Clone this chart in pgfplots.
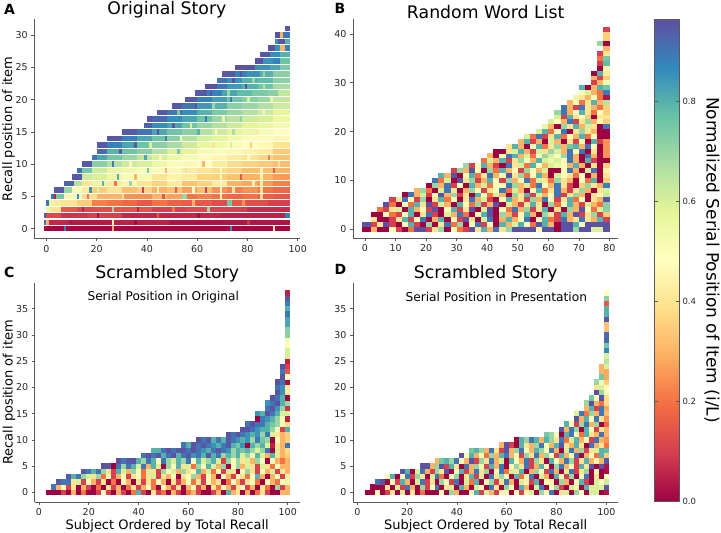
\documentclass[border=0pt]{standalone}
\usepackage{pgfplots}
\pgfplotsset{compat=1.18}
\usepackage{fontspec}
\setmainfont{DejaVu Sans}
\definecolor{spine}{gray}{0.35}
\pgfplotsset{
  colormap={spectral}{
    rgb255=(158,1,66) rgb255=(213,62,79) rgb255=(244,109,67) rgb255=(253,174,97)
    rgb255=(254,224,139) rgb255=(255,255,191) rgb255=(230,245,152) rgb255=(171,221,164)
    rgb255=(102,194,165) rgb255=(50,136,189) rgb255=(94,79,162)},
  panel/.style={
    scale only axis, anchor=south west,
    axis lines=left, axis line style={spine, line width=0.9pt, -},
    tick style={spine, line width=0.7pt}, tick align=outside, major tick length=3pt,
    xtick pos=bottom, ytick pos=left,
    tick label style={font=\fontsize{9.5}{11}\selectfont, text=black!85},
    /pgf/number format/assume math mode=true,
    point meta min=0, point meta max=0.964,
    title style={font=\fontsize{17.3}{20}\selectfont, yshift=-9pt},
    xlabel style={font=\fontsize{13}{16}\selectfont, yshift=3pt},
    ylabel style={font=\fontsize{13}{16}\selectfont},
    ylabel shift=-6pt,
  },
  cells/.style={
    point meta=explicit,
    quiver={u=#1, v=0, colored=mapped color, every arrow/.append style={line width=\cellh, -}},
  },
}
\newlength{\cellh}
\begin{document}
\begin{tikzpicture}[x=1pt,y=1pt]
\path[use as bounding box] (0,0) rectangle (721,533);

\begin{axis}[panel, at={(34.3pt,294.5pt)}, width=265.2pt, height=219.5pt,
  xmin=-4.8, xmax=100.7, ymin=-1.52, ymax=32.5,
  xtick={0,20,...,100}, ytick={0,5,...,30},
  title={Original Story}, ylabel={Recall position of item}]
\setlength{\cellh}{5.4pt}
\addplot[cells=\thisrow{w}] table[x=x,y=y,meta=c]{
x y w c
-1 0 8 .01
7 0 1 .88
8 0 18 .01
26 0 1 .3
27 0 46 .01
73 0 1 .85
74 0 16 .01
90 0 1 .47
91 0 6 .01
-1 1 1 .92
0 1 1 .3
1 1 8 .06
9 1 1 .03
10 1 16 .04
26 1 1 .45
27 1 22 .05
49 1 24 .03
73 1 24 .03
-1 2 1 .95
0 2 6 .12
6 2 10 .08
16 2 14 .1
30 2 20 .06
50 2 20 .06
70 2 25 .05
95 2 2 .88
0 3 2 .55
2 3 4 .4
6 3 6 .15
12 3 6 .12
18 3 8 .13
26 3 1 .7
27 3 15 .14
42 3 14 .1
56 3 8 .12
64 3 1 .7
65 3 15 .1
80 3 17 .07
0 4 1 .9
1 4 2 .55
3 4 3 .42
6 4 6 .4
12 4 6 .35
18 4 6 .22
24 4 6 .2
30 4 6 .18
36 4 6 .15
42 4 6 .2
48 4 6 .17
54 4 6 .16
60 4 6 .15
66 4 6 .13
72 4 2 .75
74 4 6 .15
80 4 8 .13
88 4 9 .1
2 5 1 .9
3 5 1 .05
4 5 3 .75
7 5 3 .45
10 5 4 .5
14 5 6 .38
20 5 4 .3
24 5 6 .3
30 5 6 .25
36 5 6 .25
42 5 6 .3
48 5 6 .27
54 5 2 .7
56 5 4 .2
60 5 6 .22
66 5 6 .2
72 5 6 .18
78 5 6 .2
84 5 6 .17
90 5 7 .15
3 6 4 .95
7 6 3 .7
10 6 4 .5
14 6 3 .42
17 6 1 .85
18 6 6 .35
24 6 6 .4
30 6 6 .32
36 6 6 .36
42 6 6 .3
48 6 6 .33
54 6 6 .27
60 6 6 .32
66 6 6 .25
72 6 6 .22
78 6 6 .25
84 6 6 .2
90 6 7 .18
7 7 4 .93
11 7 3 .65
14 7 4 .4
18 7 6 .55
24 7 6 .42
30 7 6 .45
36 7 6 .4
42 7 6 .36
48 7 6 .42
54 7 6 .33
60 7 6 .36
66 7 6 .42
72 7 6 .3
78 7 6 .28
84 7 6 .26
90 7 7 .22
10 8 4 .95
14 8 4 .62
18 8 6 .6
24 8 6 .55
30 8 6 .5
36 8 6 .52
42 8 6 .4
48 8 6 .44
54 8 6 .42
60 8 6 .36
66 8 6 .35
72 8 6 .33
78 8 6 .3
84 8 6 .3
90 8 7 .26
12 9 2 .9
14 9 4 .75
18 9 6 .62
24 9 6 .56
30 9 6 .54
36 9 6 .5
42 9 6 .5
48 9 6 .46
54 9 6 .42
60 9 6 .4
66 9 6 .38
72 9 6 .36
78 9 6 .32
84 9 6 .32
90 9 7 .3
14 10 4 .95
18 10 6 .72
24 10 6 .66
30 10 6 .62
36 10 6 .6
42 10 6 .55
48 10 6 .5
54 10 6 .46
60 10 6 .48
66 10 6 .42
72 10 6 .38
78 10 6 .36
84 10 6 .34
90 10 7 .32
18 11 2 .9
20 11 4 .82
24 11 6 .75
30 11 6 .7
36 11 6 .64
42 11 6 .6
48 11 6 .55
54 11 6 .52
60 11 6 .47
66 11 6 .45
72 11 6 .42
78 11 6 .4
84 11 6 .37
90 11 7 .33
20 12 4 .92
24 12 6 .8
30 12 6 .76
36 12 6 .72
42 12 6 .66
48 12 6 .6
54 12 6 .58
60 12 6 .52
66 12 6 .5
72 12 6 .46
78 12 6 .44
84 12 6 .42
90 12 7 .34
20 13 4 .95
24 13 6 .88
30 13 6 .82
36 13 6 .76
42 13 6 .72
48 13 6 .68
54 13 6 .62
60 13 6 .56
66 13 6 .54
72 13 6 .5
78 13 6 .48
84 13 6 .46
90 13 7 .4
24 14 6 .95
30 14 6 .88
36 14 6 .82
42 14 6 .76
48 14 6 .72
54 14 6 .66
60 14 6 .6
66 14 6 .58
72 14 6 .54
78 14 6 .5
84 14 6 .5
90 14 7 .46
30 15 6 .95
36 15 6 .9
42 15 6 .82
48 15 6 .76
54 15 6 .72
60 15 6 .66
66 15 6 .62
72 15 6 .58
78 15 6 .55
84 15 6 .52
90 15 7 .48
39 16 3 .93
42 16 6 .86
48 16 6 .82
54 16 6 .76
60 16 6 .7
66 16 6 .66
72 16 6 .62
78 16 6 .58
84 16 6 .56
90 16 7 .52
40 17 2 .95
42 17 6 .92
48 17 6 .86
54 17 6 .82
60 17 6 .76
66 17 6 .7
72 17 6 .65
78 17 6 .62
84 17 6 .6
90 17 7 .55
44 18 4 .95
48 18 6 .9
54 18 6 .86
60 18 6 .8
66 18 6 .74
72 18 6 .7
78 18 6 .66
84 18 6 .62
90 18 7 .58
50 19 4 .95
54 19 6 .9
60 19 6 .84
66 19 6 .8
72 19 6 .72
78 19 6 .7
84 19 6 .66
90 19 7 .62
55 20 5 .95
60 20 6 .88
66 20 6 .83
72 20 6 .76
78 20 6 .73
84 20 6 .7
90 20 7 .64
59 21 5 .95
64 21 6 .88
70 21 6 .82
76 21 6 .78
82 21 6 .74
88 21 4 .72
92 21 5 .64
63 22 5 .96
68 22 4 .9
72 22 6 .84
78 22 6 .8
84 22 6 .76
90 22 7 .68
68 23 4 .9
72 23 6 .85
78 23 6 .8
84 23 6 .78
90 23 7 .72
70 24 5 .95
75 24 5 .88
80 24 5 .85
85 24 5 .8
90 24 7 .72
75 25 8 .96
83 25 6 .85
89 25 4 .82
93 25 4 .74
83 26 3 .96
86 26 4 .85
90 26 3 .88
93 26 4 .76
85 27 4 .95
89 27 4 .86
93 27 4 .8
88 28 3 .96
91 28 2 .85
93 28 2 .3
95 28 2 .88
91 29 1 .85
92 29 3 .96
95 29 2 .8
91 30 2 .96
93 30 1 .3
94 30 3 .9
95 31 2 .95
};
% single-subject streaks inside the broader runs
\addplot[cells=1] table[x=x,y=y,meta=c]{
x y c
35 1 .01
80 1 .08
20 2 .02
44 2 .15
60 2 .02
14 3 .05
36 3 .05
50 3 .2
58 4 .3
78 4 .25
12 5 .85
16 5 .2
30 5 .4
46 5 .15
69 5 .45
85 5 .4
20 6 .6
38 6 .1
44 6 .55
51 6 .15
58 6 .5
63 6 .1
69 6 .45
74 6 .4
85 6 .4
22 7 .8
27 7 .2
33 7 .7
69 7 .5
82 7 .45
85 7 .42
28 8 .8
35 8 .3
69 8 .5
77 8 .15
85 8 .45
40 9 .75
47 9 .3
55 9 .6
69 9 .5
85 9 .45
90 9 .15
26 10 .9
33 10 .45
62 10 .3
71 10 .55
92 10 .4
39 11 .82
45 11 .45
80 11 .5
88 11 .22
29 12 .95
52 12 .75
59 12 .4
35 13 .95
41 13 .6
66 13 .4
73 13 .6
81 13 .35
47 14 .9
53 14 .5
44 15 .96
60 15 .8
67 15 .5
74 15 .68
83 15 .42
50 16 .95
57 16 .6
63 17 .9
70 17 .55
77 17 .72
52 18 .75
86 18 .5
59 19 .96
66 19 .7
73 20 .88
80 20 .6
89 20 .55
65 21 .96
72 21 .7
79 22 .96
86 22 .65
74 23 .96
82 23 .7
77 24 .96
86 24 .7
};
\end{axis}

\begin{axis}[panel, at={(353pt,294.7pt)}, width=265.3pt, height=219.3pt,
  xmin=-3.93, xmax=82.9, ymin=-1.9, ymax=43.1,
  xtick={0,10,...,80}, ytick={0,10,...,40},
  title={Random Word List}]
\setlength{\cellh}{5pt}
\addplot[cells=2.03] table[x=x,y=y,meta=c]{
x y c
-1 0 .0
0 0 .0
2 0 .3
4 0 .0
6 0 .0
8 0 .5
10 0 .1
12 0 .0
14 0 .2
16 0 .96
18 0 .96
20 0 .1
22 0 .4
24 0 .7
26 0 .0
28 0 .5
30 0 .2
32 0 .1
34 0 .96
36 0 .4
38 0 .8
40 0 .3
42 0 .9
44 0 .4
46 0 .7
48 0 .96
50 0 .96
52 0 .96
54 0 .96
56 0 .5
58 0 .96
60 0 .96
62 0 .0
64 0 .96
66 0 .96
68 0 .7
70 0 .96
72 0 .96
74 0 .6
76 0 .6
78 0 .96
-1 1 .96
0 1 .96
2 1 .1
4 1 .4
6 1 .96
8 1 .1
10 1 .0
12 1 .5
14 1 .8
16 1 .1
18 1 .0
20 1 .7
22 1 .0
24 1 .4
26 1 .9
28 1 .2
30 1 .7
32 1 .0
34 1 .5
36 1 .9
38 1 .1
40 1 .5
42 1 .0
44 1 .8
46 1 .3
48 1 .6
50 1 .8
52 1 .5
54 1 .2
56 1 .96
58 1 .8
60 1 .3
62 1 .0
64 1 .96
66 1 .96
68 1 .8
70 1 .5
72 1 .96
74 1 .96
76 1 .96
78 1 .96
2 2 .4
4 2 .0
6 2 .0
8 2 .1
10 2 .4
12 2 .8
14 2 .1
16 2 .5
18 2 .9
20 2 .0
22 2 .3
24 2 .8
26 2 .0
28 2 .5
30 2 .1
32 2 .96
34 2 .4
36 2 .0
38 2 .6
40 2 .9
42 2 .0
44 2 .3
46 2 .8
48 2 .3
50 2 .5
52 2 .9
54 2 .0
56 2 .5
58 2 .8
60 2 .2
62 2 .1
64 2 .9
66 2 .3
68 2 .4
70 2 .9
72 2 .4
74 2 .3
76 2 .8
78 2 .1
2 3 .0
4 3 .0
6 3 .5
8 3 .2
10 3 .1
12 3 .5
14 3 .8
16 3 .0
18 3 .4
20 3 .9
22 3 .1
24 3 .0
26 3 .6
28 3 .3
30 3 .9
32 3 .2
34 3 .0
36 3 .5
38 3 .8
40 3 .96
42 3 .0
44 3 .7
46 3 .3
48 3 .1
50 3 .5
52 3 .8
54 3 .3
56 3 .0
58 3 .7
60 3 .4
62 3 .1
64 3 .8
66 3 .3
68 3 .96
70 3 .1
72 3 .4
74 3 .7
76 3 .1
78 3 .35
4 4 .2
6 4 .1
8 4 .4
10 4 .6
12 4 .0
14 4 .8
16 4 .3
18 4 .5
20 4 .1
22 4 .96
24 4 .0
26 4 .5
28 4 .8
30 4 .1
32 4 .4
34 4 .96
36 4 .0
38 4 .6
40 4 .96
42 4 .0
44 4 .5
46 4 .2
48 4 .9
50 4 .3
52 4 .7
54 4 .1
56 4 .4
58 4 .8
60 4 .0
62 4 .4
64 4 .0
66 4 .7
68 4 .3
70 4 .96
72 4 .5
74 4 .2
76 4 .6
78 4 .72
6 5 .96
8 5 .2
10 5 .0
12 5 .5
14 5 .2
16 5 .8
18 5 .4
20 5 .96
22 5 .1
24 5 .6
26 5 .3
28 5 .0
30 5 .8
32 5 .5
34 5 .2
36 5 .7
38 5 .1
40 5 .3
42 5 .96
44 5 .0
46 5 .6
48 5 .3
50 5 .1
52 5 .4
54 5 .8
56 5 .4
58 5 .0
60 5 .7
62 5 .2
64 5 .5
66 5 .8
68 5 .3
70 5 .1
72 5 .6
74 5 .3
76 5 .2
78 5 .72
8 6 .1
10 6 .4
12 6 .9
14 6 .5
16 6 .1
18 6 .7
20 6 .0
22 6 .4
24 6 .8
26 6 .2
28 6 .5
30 6 .0
32 6 .4
34 6 .9
36 6 .3
38 6 .6
40 6 .1
42 6 .0
44 6 .5
46 6 .8
48 6 .3
50 6 .4
52 6 .1
54 6 .7
56 6 .3
58 6 .9
60 6 .5
62 6 .1
64 6 .4
66 6 .8
68 6 .2
70 6 .5
72 6 .0
74 6 .4
76 6 .3
78 6 .95
12 7 .0
14 7 .9
16 7 .3
18 7 .6
20 7 .1
22 7 .5
24 7 .96
26 7 .3
28 7 .7
30 7 .1
32 7 .4
34 7 .0
36 7 .8
38 7 .5
40 7 .2
42 7 .6
44 7 .3
46 7 .0
48 7 .7
50 7 .4
52 7 .8
54 7 .1
56 7 .6
58 7 .3
60 7 .5
62 7 .9
64 7 .1
66 7 .4
68 7 .7
70 7 .3
72 7 .0
74 7 .4
76 7 .5
78 7 .62
16 8 .3
18 8 .7
20 8 .2
22 8 .0
24 8 .6
26 8 .9
28 8 .4
30 8 .0
32 8 .3
34 8 .7
36 8 .5
38 8 .1
40 8 .4
42 8 .5
44 8 .9
46 8 .2
48 8 .6
50 8 .3
52 8 .0
54 8 .5
56 8 .8
58 8 .2
60 8 .4
62 8 .9
64 8 .3
66 8 .1
68 8 .4
70 8 .7
72 8 .3
74 8 .0
76 8 .4
78 8 .6
20 9 .0
22 9 .7
24 9 .3
26 9 .9
28 9 .1
30 9 .5
32 9 .0
34 9 .8
36 9 .3
38 9 .6
40 9 .2
42 9 .5
44 9 .5
46 9 .9
48 9 .7
50 9 .3
52 9 .6
54 9 .2
56 9 .9
58 9 .5
60 9 .3
62 9 .9
64 9 .4
66 9 .1
68 9 .0
70 9 .35
72 9 .7
74 9 .4
76 9 .3
78 9 .88
22 10 .9
24 10 .2
26 10 .6
28 10 .0
30 10 .96
32 10 .4
34 10 .7
36 10 .1
38 10 .3
40 10 .8
42 10 .5
44 10 .1
46 10 .7
48 10 .3
50 10 .5
52 10 .9
54 10 .2
56 10 .6
58 10 .4
60 10 .2
62 10 .7
64 10 .4
66 10 .3
68 10 .0
70 10 .5
72 10 .2
74 10 .8
76 10 .0
78 10 .35
24 11 .8
26 11 .3
28 11 .96
30 11 .0
32 11 .5
34 11 .8
36 11 .2
38 11 .4
40 11 .9
42 11 .3
44 11 .5
46 11 .96
48 11 .4
50 11 .7
52 11 .2
54 11 .5
56 11 .8
58 11 .3
60 11 .0
62 11 .6
64 11 .5
66 11 .4
68 11 .2
70 11 .5
72 11 .0
74 11 .3
76 11 .0
78 11 .4
28 12 .1
30 12 .7
32 12 .3
34 12 .96
36 12 .5
38 12 .0
40 12 .7
42 12 .2
44 12 .8
46 12 .3
48 12 .5
50 12 .1
52 12 .7
54 12 .5
56 12 .3
58 12 .6
60 12 .0
62 12 .0
64 12 .5
66 12 .9
68 12 .3
70 12 .0
72 12 .6
74 12 .9
76 12 .0
78 12 .45
32 13 .7
34 13 .1
36 13 .5
38 13 .8
40 13 .3
42 13 .1
44 13 .0
46 13 .9
48 13 .4
50 13 .6
52 13 .2
54 13 .8
56 13 .5
58 13 .3
60 13 .6
62 13 .55
64 13 .5
66 13 .3
68 13 .8
70 13 .3
72 13 .0
74 13 .4
76 13 .0
78 13 .35
38 14 .2
40 14 .6
42 14 .3
44 14 .8
46 14 .1
48 14 .4
50 14 .7
52 14 .5
54 14 .3
56 14 .8
58 14 .6
60 14 .55
62 14 .6
64 14 .5
66 14 .9
68 14 .3
70 14 .0
72 14 .8
74 14 .1
76 14 .0
78 14 .0
40 15 .3
42 15 .0
44 15 .5
46 15 .9
48 15 .8
50 15 .3
52 15 .6
54 15 .2
56 15 .5
58 15 .7
60 15 .6
62 15 .5
64 15 .7
66 15 .9
68 15 .3
70 15 .0
72 15 .9
74 15 .3
76 15 .0
78 15 .25
42 16 .0
44 16 .0
46 16 .4
48 16 .6
50 16 .8
52 16 .3
54 16 .1
56 16 .6
58 16 .4
60 16 .7
62 16 .6
64 16 .3
66 16 .9
68 16 .5
70 16 .9
72 16 .0
74 16 .4
76 16 .0
78 16 .25
46 17 .4
48 17 .8
50 17 .3
52 17 .0
54 17 .5
56 17 .8
58 17 .2
60 17 .4
62 17 .7
64 17 .3
66 17 .75
68 17 .8
70 17 .3
72 17 .9
74 17 .5
76 17 .0
78 17 .25
50 18 .3
52 18 .8
54 18 .1
56 18 .3
58 18 .0
60 18 .6
62 18 .3
64 18 .0
66 18 .4
68 18 .1
70 18 .5
72 18 .0
74 18 .8
76 18 .1
78 18 .25
52 19 .6
54 19 .2
56 19 .9
58 19 .1
60 19 .4
62 19 .8
64 19 .2
66 19 .5
68 19 .3
70 19 .8
72 19 .2
74 19 .5
76 19 .0
78 19 .0
56 20 .6
58 20 .8
60 20 .2
62 20 .5
64 20 .9
66 20 .0
68 20 .4
70 20 .7
72 20 .4
74 20 .3
76 20 .0
78 20 .0
58 21 .55
60 21 .3
62 21 .0
64 21 .7
66 21 .4
68 21 .8
70 21 .3
72 21 .6
74 21 .4
76 21 .0
78 21 .9
60 22 .6
62 22 .5
64 22 .3
66 22 .9
68 22 .1
70 22 .4
72 22 .7
74 22 .3
76 22 .5
78 22 .35
62 23 .6
64 23 .1
66 23 .8
68 23 .4
70 23 .5
72 23 .35
74 23 .0
76 23 .4
78 23 .4
62 24 .7
64 24 .9
66 24 .3
68 24 .5
70 24 .8
72 24 .4
74 24 .2
76 24 .5
78 24 .35
64 25 .9
66 25 .3
68 25 .1
70 25 .9
72 25 .4
74 25 .3
76 25 .2
78 25 .35
66 26 .3
68 26 .5
70 26 .2
72 26 .4
74 26 .8
76 26 .3
78 26 .65
68 27 .55
70 27 .4
72 27 .3
74 27 .5
76 27 .2
78 27 .03
70 28 .5
72 28 .6
74 28 .3
76 28 .2
78 28 .88
70 29 .8
72 29 .0
74 29 .3
76 29 .8
78 29 .75
74 30 .1
76 30 .3
78 30 .5
74 31 .3
76 31 .1
78 31 .35
74 32 .0
76 32 .8
78 32 .42
76 33 .0
78 33 .45
76 34 .1
78 34 .78
76 35 .2
78 35 .75
76 36 .1
78 36 .4
78 37 .3
78 38 .0
76 38 .7
78 39 .35
78 40 .35
78 41 .1
};
\end{axis}

\begin{axis}[panel, at={(34.7pt,30.7pt)}, width=265pt, height=219.6pt,
  xmin=-1.73, xmax=104.8, ymin=-1.9, ymax=39.95,
  xtick={0,20,...,100}, ytick={0,5,...,35},
  title={Scrambled Story}, xlabel={Subject Ordered by Total Recall}, ylabel={Recall position of item}]
\setlength{\cellh}{5.35pt}
\addplot[cells=2.03] table[x=x,y=y,meta=c]{
x y c
3 0 .0
5 0 .0
7 0 .0
9 0 .1
11 0 .0
13 0 .3
15 0 .0
17 0 .2
19 0 .0
21 0 .0
23 0 .1
25 0 .5
27 0 .1
29 0 .0
31 0 .3
33 0 .1
35 0 .0
37 0 .2
39 0 .8
41 0 .1
43 0 .0
45 0 .4
47 0 .1
49 0 .2
51 0 .0
53 0 .3
55 0 .1
57 0 .0
59 0 .2
61 0 .3
63 0 .1
65 0 .0
67 0 .0
69 0 .1
71 0 .3
73 0 .0
75 0 .8
77 0 .3
79 0 .4
81 0 .0
83 0 .3
85 0 .0
87 0 .2
89 0 .4
91 0 .1
93 0 .0
95 0 .0
97 0 .3
99 0 .3
5 1 .9
7 1 .3
9 1 .5
11 1 .1
13 1 .4
15 1 .0
17 1 .3
19 1 .1
21 1 .0
23 1 .2
25 1 .0
27 1 .4
29 1 .1
31 1 .3
33 1 .0
35 1 .2
37 1 .4
39 1 .1
41 1 .3
43 1 .5
45 1 .2
47 1 .0
49 1 .5
51 1 .3
53 1 .1
55 1 .4
57 1 .0
59 1 .3
61 1 .5
63 1 .1
65 1 .3
67 1 .0
69 1 .4
71 1 .2
73 1 .5
75 1 .3
77 1 .1
79 1 .4
81 1 .5
83 1 .1
85 1 .3
87 1 .0
89 1 .4
91 1 .2
93 1 .0
95 1 .7
97 1 .1
99 1 .3
7 2 .95
9 2 .9
11 2 .9
13 2 .4
15 2 .6
17 2 .1
19 2 .5
21 2 .3
23 2 .1
25 2 .4
27 2 .0
29 2 .2
31 2 .0
33 2 .5
35 2 .3
37 2 .0
39 2 .4
41 2 .1
43 2 .4
45 2 .2
47 2 .5
49 2 .3
51 2 .0
53 2 .4
55 2 .1
57 2 .3
59 2 .5
61 2 .2
63 2 .4
65 2 .1
67 2 .5
69 2 .3
71 2 .4
73 2 .0
75 2 .2
77 2 .5
79 2 .3
81 2 .1
83 2 .4
85 2 .5
87 2 .2
89 2 .0
91 2 .5
93 2 .3
95 2 .2
97 2 .5
99 2 .55
11 3 .95
13 3 .8
15 3 .9
17 3 .7
19 3 .6
21 3 .4
23 3 .7
25 3 .2
27 3 .5
29 3 .1
31 3 .3
33 3 .5
35 3 .1
37 3 .4
39 3 .5
41 3 .2
43 3 .4
45 3 .6
47 3 .1
49 3 .4
51 3 .3
53 3 .5
55 3 .0
57 3 .4
59 3 .5
61 3 .7
63 3 .3
65 3 .1
67 3 .5
69 3 .3
71 3 .0
73 3 .5
75 3 .3
77 3 .1
79 3 .5
81 3 .4
83 3 .2
85 3 .5
87 3 .8
89 3 .3
91 3 .0
93 3 .3
95 3 .5
97 3 .1
99 3 .55
17 4 .95
19 4 .9
21 4 .8
23 4 .9
25 4 .7
27 4 .4
29 4 .1
31 4 .8
33 4 .6
35 4 .3
37 4 .7
39 4 .5
41 4 .2
43 4 .6
45 4 .4
47 4 .1
49 4 .7
51 4 .5
53 4 .6
55 4 .3
57 4 .7
59 4 .4
61 4 .5
63 4 .8
65 4 .3
67 4 .6
69 4 .2
71 4 .5
73 4 .1
75 4 .6
77 4 .4
79 4 .0
81 4 .5
83 4 .7
85 4 .4
87 4 .1
89 4 .5
91 4 .3
93 4 .6
95 4 .1
97 4 .4
99 4 .3
25 5 .96
27 5 .95
29 5 .0
31 5 .9
33 5 .7
35 5 .9
37 5 .8
39 5 .6
41 5 .9
43 5 .3
45 5 .8
47 5 .6
49 5 .0
51 5 .7
53 5 .5
55 5 .8
57 5 .4
59 5 .6
61 5 .2
63 5 .7
65 5 .5
67 5 .8
69 5 .6
71 5 .3
73 5 .7
75 5 .0
77 5 .5
79 5 .7
81 5 .3
83 5 .6
85 5 .4
87 5 .1
89 5 .6
91 5 .4
93 5 .2
95 5 .5
97 5 .3
99 5 .3
31 6 .96
33 6 .9
35 6 .95
37 6 .96
39 6 .8
41 6 .7
43 6 .9
45 6 .8
47 6 .5
49 6 .9
51 6 .7
53 6 .6
55 6 .8
57 6 .7
59 6 .9
61 6 .5
63 6 .8
65 6 .6
67 6 .7
69 6 .8
71 6 .6
73 6 .1
75 6 .7
77 6 .5
79 6 .7
81 6 .4
83 6 .6
85 6 .3
87 6 .7
89 6 .5
91 6 .0
93 6 .5
95 6 .3
97 6 .2
99 6 .3
41 7 .9
43 7 .96
45 7 .9
47 7 .95
49 7 .8
51 7 .9
53 7 .96
55 7 .8
57 7 .9
59 7 .95
61 7 .85
63 7 .9
65 7 .8
67 7 .95
69 7 .8
71 7 .9
73 7 .7
75 7 .8
77 7 .7
79 7 .8
81 7 .6
83 7 .7
85 7 .5
87 7 .8
89 7 .6
91 7 .3
93 7 .8
95 7 .4
97 7 .3
99 7 .35
45 8 .8
47 8 .8
49 8 .9
51 8 .96
53 8 .9
55 8 .95
57 8 .96
59 8 .9
61 8 .96
63 8 .9
65 8 .85
67 8 .8
69 8 .9
71 8 .95
73 8 .9
75 8 .85
77 8 .7
79 8 .8
81 8 .75
83 8 .8
85 8 .7
87 8 .6
89 8 .7
91 8 .9
93 8 .0
95 8 .6
97 8 .3
99 8 .38
57 9 .9
59 9 .8
61 9 .96
63 9 .9
65 9 .95
67 9 .9
69 9 .85
71 9 .8
73 9 .9
75 9 .95
77 9 .8
79 9 .75
81 9 .85
83 9 .0
85 9 .8
87 9 .7
89 9 .8
91 9 .6
93 9 .05
95 9 .4
97 9 .3
99 9 .9
63 10 .96
65 10 .9
67 10 .95
69 10 .8
71 10 .9
73 10 .8
75 10 .95
77 10 .9
79 10 .85
81 10 .8
83 10 .85
85 10 .7
87 10 .9
89 10 .75
91 10 .7
93 10 .0
95 10 .5
97 10 .3
99 10 .35
75 11 .96
77 11 .9
79 11 .96
81 11 .9
83 11 .85
85 11 .8
87 11 .85
89 11 .7
91 11 .9
93 11 .6
95 11 .4
97 11 .3
99 11 .35
81 12 .96
83 12 .96
85 12 .9
87 12 .85
89 12 .8
91 12 .8
93 12 .7
95 12 .5
97 12 .1
99 12 .8
83 13 .9
85 13 .96
87 13 .9
89 13 .9
91 13 .8
93 13 .75
95 13 .7
97 13 .5
99 13 .38
87 14 .0
89 14 .9
91 14 .85
93 14 .8
95 14 .7
97 14 .5
99 14 .05
87 15 .85
89 15 .8
91 15 .96
93 15 .9
95 15 .8
97 15 .6
99 15 .6
91 16 .9
93 16 .96
95 16 .85
97 16 .7
99 16 .08
91 17 .85
93 17 .9
95 17 .96
97 17 .8
99 17 .7
93 18 .96
95 18 .9
97 18 .8
99 18 .0
95 19 .96
97 19 .85
99 19 .42
95 20 .9
97 20 .85
99 20 .42
95 21 .96
97 21 .9
99 21 .02
97 22 .96
99 22 .5
97 23 .9
99 23 .15
97 24 .96
99 24 .1
99 25 .05
99 26 .6
99 27 .6
99 28 .5
99 29 .5
99 30 .72
99 31 .72
99 32 .82
99 33 .82
99 34 .9
99 35 .8
99 36 .88
99 37 .95
99 38 .05
};
\node[font=\fontsize{12.1}{14}\selectfont] at (rel axis cs:0.485,0.935) {Serial Position in Original};
\end{axis}

\begin{axis}[panel, at={(353pt,30.7pt)}, width=265.3pt, height=219.6pt,
  xmin=-1.73, xmax=104.8, ymin=-1.9, ymax=39.95,
  xtick={0,20,...,100}, ytick={0,5,...,35},
  title={Scrambled Story}, xlabel={Subject Ordered by Total Recall},
  colorbar,
  colorbar/width=24.3pt,
  colorbar style={
    at={(parent axis.south east)}, anchor=south west, xshift=27.9pt, yshift=1.3pt,
    scale only axis, width=24.3pt, height=482pt,
    ymin=0, ymax=0.964,
    ytick={0,0.2,...,0.8}, yticklabel pos=right,
    /pgf/number format/assume math mode=true,
    yticklabel style={font=\fontsize{8.5}{10}\selectfont, /pgf/number format/fixed, /pgf/number format/precision=1, /pgf/number format/fixed zerofill},
    axis line style={spine, line width=0.7pt}, major tick length=3pt,
    ylabel={Normalized Serial Position of Item (i/L)},
    ylabel style={font=\fontsize{17}{20}\selectfont, rotate=180, yshift=1.5pt},
  }]
\setlength{\cellh}{5.35pt}
\addplot[cells=2.03] table[x=x,y=y,meta=c]{
x y c
3 0 .0
5 0 .0
7 0 .5
9 0 .0
11 0 .1
13 0 .4
15 0 .0
17 0 .6
19 0 .0
21 0 .4
23 0 .0
25 0 .2
27 0 .0
29 0 .0
31 0 .0
33 0 .5
35 0 .0
37 0 .7
39 0 .3
41 0 .0
43 0 .0
45 0 .5
47 0 .8
49 0 .1
51 0 .6
53 0 .3
55 0 .1
57 0 .45
59 0 .45
61 0 .0
63 0 .5
65 0 .1
67 0 .45
69 0 .6
71 0 .0
73 0 .7
75 0 .5
77 0 .9
79 0 .0
81 0 .4
83 0 .6
85 0 .0
87 0 .7
89 0 .5
91 0 .0
93 0 .6
95 0 .6
97 0 .0
99 0 .03
5 1 .0
7 1 .0
9 1 .0
11 1 .4
13 1 .0
15 1 .6
17 1 .1
19 1 .9
21 1 .3
23 1 .0
25 1 .7
27 1 .1
29 1 .5
31 1 .9
33 1 .0
35 1 .4
37 1 .6
39 1 .0
41 1 .8
43 1 .3
45 1 .0
47 1 .6
49 1 .5
51 1 .0
53 1 .9
55 1 .4
57 1 .0
59 1 .7
61 1 .5
63 1 .0
65 1 .8
67 1 .3
69 1 .0
71 1 .6
73 1 .9
75 1 .0
77 1 .5
79 1 .7
81 1 .1
83 1 .0
85 1 .6
87 1 .45
89 1 .0
91 1 .8
93 1 .6
95 1 .6
97 1 .6
99 1 .95
7 2 .9
9 2 .96
11 2 .0
13 2 .5
15 2 .1
17 2 .8
19 2 .3
21 2 .0
23 2 .6
25 2 .9
27 2 .1
29 2 .4
31 2 .0
33 2 .7
35 2 .5
37 2 .1
39 2 .9
41 2 .0
43 2 .6
45 2 .2
47 2 .8
49 2 .0
51 2 .5
53 2 .7
55 2 .1
57 2 .4
59 2 .9
61 2 .3
63 2 .0
65 2 .6
67 2 .45
69 2 .1
71 2 .8
73 2 .0
75 2 .5
77 2 .45
79 2 .0
81 2 .7
83 2 .3
85 2 .0
87 2 .5
89 2 .8
91 2 .1
93 2 .0
95 2 .6
97 2 .5
99 2 .62
11 3 .5
13 3 .8
15 3 .0
17 3 .5
19 3 .9
21 3 .1
23 3 .7
25 3 .4
27 3 .0
29 3 .6
31 3 .9
33 3 .2
35 3 .0
37 3 .5
39 3 .7
41 3 .0
43 3 .4
45 3 .8
47 3 .1
49 3 .6
51 3 .0
53 3 .9
55 3 .4
57 3 .7
59 3 .5
61 3 .0
63 3 .8
65 3 .2
67 3 .45
69 3 .9
71 3 .0
73 3 .6
75 3 .3
77 3 .0
79 3 .8
81 3 .5
83 3 .1
85 3 .7
87 3 .0
89 3 .5
91 3 .9
93 3 .0
95 3 .4
97 3 .0
99 3 .5
17 4 .96
19 4 .8
21 4 .0
23 4 .6
25 4 .9
27 4 .3
29 4 .1
31 4 .7
33 4 .4
35 4 .96
37 4 .0
39 4 .5
41 4 .8
43 4 .1
45 4 .3
47 4 .9
49 4 .4
51 4 .7
53 4 .0
55 4 .5
57 4 .9
59 4 .2
61 4 .6
63 4 .4
65 4 .8
67 4 .0
69 4 .3
71 4 .7
73 4 .5
75 4 .1
77 4 .9
79 4 .3
81 4 .0
83 4 .6
85 4 .9
87 4 .1
89 4 .4
91 4 .7
93 4 .0
95 4 .5
97 4 .0
99 4 .02
25 5 .96
27 5 .96
29 5 .3
31 5 .7
33 5 .96
35 5 .1
37 5 .8
39 5 .4
41 5 .0
43 5 .9
45 5 .3
47 5 .7
49 5 .5
51 5 .1
53 5 .8
55 5 .3
57 5 .9
59 5 .0
61 5 .5
63 5 .7
65 5 .4
67 5 .9
69 5 .1
71 5 .3
73 5 .8
75 5 .5
77 5 .0
79 5 .7
81 5 .9
83 5 .3
85 5 .5
87 5 .1
89 5 .8
91 5 .4
93 5 .96
95 5 .0
97 5 .96
99 5 .03
31 6 .3
33 6 .75
35 6 .8
37 6 .7
39 6 .9
41 6 .5
43 6 .3
45 6 .96
47 6 .1
49 6 .7
51 6 .4
53 6 .9
55 6 .3
57 6 .6
59 6 .0
61 6 .8
63 6 .5
65 6 .3
67 6 .9
69 6 .1
71 6 .7
73 6 .4
75 6 .0
77 6 .8
79 6 .5
81 6 .3
83 6 .9
85 6 .7
87 6 .1
89 6 .4
91 6 .8
93 6 .3
95 6 .5
97 6 .3
99 6 .95
41 7 .96
43 7 .5
45 7 .8
47 7 .3
49 7 .5
51 7 .2
53 7 .7
55 7 .3
57 7 .8
59 7 .9
61 7 .3
63 7 .5
65 7 .1
67 7 .7
69 7 .4
71 7 .9
73 7 .3
75 7 .7
77 7 .5
79 7 .1
81 7 .8
83 7 .3
85 7 .5
87 7 .9
89 7 .0
91 7 .3
93 7 .5
95 7 .2
97 7 .8
99 7 .35
45 8 .75
47 8 .8
49 8 .7
51 8 .3
53 8 .9
55 8 .4
57 8 .1
59 8 .96
61 8 .3
63 8 .7
65 8 .9
67 8 .5
69 8 .3
71 8 .8
73 8 .7
75 8 .5
77 8 .9
79 8 .3
81 8 .0
83 8 .6
85 8 .9
87 8 .3
89 8 .7
91 8 .1
93 8 .4
95 8 .6
97 8 .8
99 8 .78
57 9 .3
59 9 .96
61 9 .1
63 9 .0
65 9 .8
67 9 .4
69 9 .3
71 9 .7
73 9 .9
75 9 .5
77 9 .3
79 9 .8
81 9 .96
83 9 .4
85 9 .3
87 9 .8
89 9 .4
91 9 .0
93 9 .9
95 9 .3
97 9 .4
99 9 .2
63 10 .0
65 10 .8
67 10 .7
69 10 .9
71 10 .8
73 10 .3
75 10 .8
77 10 .7
79 10 .4
81 10 .9
83 10 .2
85 10 .6
87 10 .8
89 10 .3
91 10 .5
93 10 .1
95 10 .9
97 10 .3
99 10 .25
75 11 .75
77 11 .7
79 11 .5
81 11 .0
83 11 .8
85 11 .9
87 11 .5
89 11 .2
91 11 .8
93 11 .4
95 11 .3
97 11 .9
99 11 .3
81 12 .96
83 12 .3
85 12 .9
87 12 .7
89 12 .0
91 12 .8
93 12 .5
95 12 .1
97 12 .4
99 12 .3
83 13 .8
85 13 .5
87 13 .1
89 13 .7
91 13 .9
93 13 .3
95 13 .7
97 13 .0
99 13 .18
87 14 .96
89 14 .3
91 14 .8
93 14 .5
95 14 .9
97 14 .4
99 14 .25
87 15 .6
89 15 .9
91 15 .2
93 15 .7
95 15 .3
97 15 .9
99 15 .32
91 16 .3
93 16 .8
95 16 .1
97 16 .9
99 16 .28
91 17 .7
93 17 .96
95 17 .3
97 17 .2
99 17 .38
93 18 .75
95 18 .5
97 18 .96
99 18 .38
95 19 .96
97 19 .7
99 19 .5
95 20 .4
97 20 .6
99 20 .5
95 21 .7
97 21 .5
99 21 .35
97 22 .75
99 22 .28
97 23 .3
99 23 .28
97 24 .3
99 24 .6
99 25 .65
99 26 .6
99 27 .87
99 28 .75
99 29 .92
99 30 .92
99 31 .33
99 32 .33
99 33 .95
99 34 .8
99 35 .8
99 36 .15
99 37 .72
99 38 .48
};
\node[font=\fontsize{12.2}{14}\selectfont] at (rel axis cs:0.54,0.935) {Serial Position in Presentation};
\end{axis}

\node[anchor=base west, font=\fontsize{14}{17}\selectfont\bfseries] at (0.5,518) {A};
\node[anchor=base west, font=\fontsize{14}{17}\selectfont\bfseries] at (331,519) {B};
\node[anchor=base west, font=\fontsize{14}{17}\selectfont\bfseries] at (0.5,255) {C};
\node[anchor=base west, font=\fontsize{14}{17}\selectfont\bfseries] at (331,258) {D};
\end{tikzpicture}
\end{document}
